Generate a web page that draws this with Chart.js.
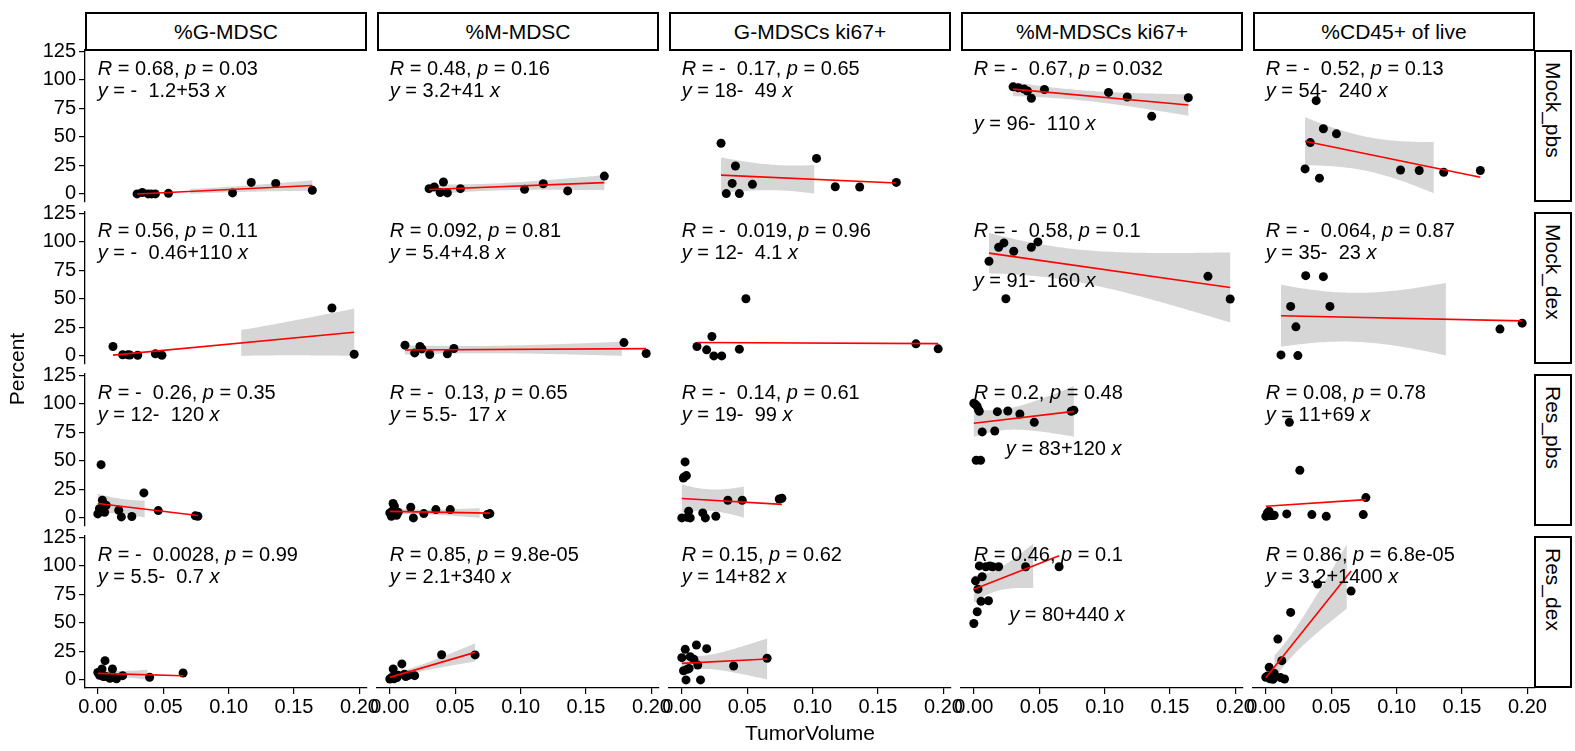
<!DOCTYPE html>
<html>
<head>
<meta charset="utf-8">
<script src="https://cdn.jsdelivr.net/npm/chart.js@4.4.1/dist/chart.umd.min.js"></script>
<style>
  body { margin: 0; background: #fff; width: 1575px; height: 751px; overflow: hidden; position: relative;
         font-family: 'Liberation Sans', Arial, sans-serif; }
  canvas { position: absolute; }
  .strip { position: absolute; box-sizing: border-box; border: 2.5px solid #000; background: #fff;
           display: flex; align-items: center; justify-content: center; font-size: 21px; color: #000; }
  .vstrip { writing-mode: vertical-rl; justify-content: flex-start; padding-top: 10px; }
  .title { position: absolute; font-size: 21px; color: #000; white-space: nowrap; }
</style>
</head>
<body>
<script>
// facets
const groups = ['Mock_pbs', 'Mock_dex', 'Res_pbs', 'Res_dex'];
const measures = ['%G-MDSC', '%M-MDSC', 'G-MDSCs ki67+', '%M-MDSCs ki67+', '%CD45+ of live'];

// TumorVolume per group (same mice in every column)
const volMockPbs = [0.030, 0.034, 0.0385, 0.041, 0.044, 0.054, 0.103, 0.1173, 0.136, 0.164];
const volMockDex = [0.0116, 0.019, 0.023, 0.0245, 0.0305, 0.044, 0.049, 0.179, 0.196];
const volResPbs = [0.000, 0.0012, 0.0018, 0.0025, 0.0035, 0.0042, 0.0052, 0.0064, 0.016, 0.018, 0.026, 0.0352, 0.0462, 0.0745, 0.0765];
const volResDex = [0.000, 0.0013, 0.0026, 0.0032, 0.0042, 0.0055, 0.0064, 0.0092, 0.0112, 0.0122, 0.0143, 0.019, 0.0396, 0.0652];

// Percent values, one array per panel
const mockPbsGMdsc = [0, 1.2, 0, 0, 0, 0.5, 0.9, 10.1, 9.2, 3.2];
const mockPbsMMdsc = [4.6, 6.1, 1.2, 10.4, 0.9, 4.6, 4.0, 8.9, 2.6, 15.6];
const mockPbsGKi67 = [44.4, 0.3, 9.2, 24.5, 0.3, 8.4, 31.1, 6.3, 6.1, 10.1];
const mockPbsMKi67 = [93.9, 93.1, 91.9, 90.2, 83.9, 91.6, 89.0, 85.0, 68.0, 84.4];
const mockPbsCd45 = [21.9, 45.0, 81.8, 13.8, 57.1, 52.7, 21.0, 20.5, 19.0, 20.5];

const mockDexGMdsc = [8.2, 1.0, 1.0, 0.8, 0.6, 1.8, 0.6, 42.0, 1.5];
const mockDexMMdsc = [9.4, 2.6, 8.2, 6.2, 1.2, 1.8, 6.5, 11.7, 2.1];
const mockDexGKi67 = [8.2, 5.3, 17.0, 0, 0, 5.9, 50.1, 10.6, 6.2];
const mockDexMKi67 = [83.0, 95.3, 99.1, 50.1, 91.8, 95.3, 100, 69.8, 49.9];
const mockDexCd45 = [0.9, 43.4, 25.5, 0.3, 70.4, 69.5, 43.4, 23.5, 28.7];

const resPbsGMdsc = [3.5, 8, 5.8, 46.7, 15.5, 10.2, 5.0, 11.1, 6.7, 0.9, 1.2, 21.9, 6.4, 1.8, 1.5];
const resPbsMMdsc = [4.4, 1.5, 6, 12.6, 10.2, 3, 2.3, 5, 9.3, 0, 3.8, 7.3, 7.3, 2.9, 3.8];
const resPbsGKi67 = [0, 35, 35.9, 49.1, 37.1, 0.5, 5.8, 0, 4.4, 0, 1.5, 15.5, 15.5, 16.6, 17.2];
const resPbsMKi67 = [100.5, 99.5, 50.5, 98, 95, 93.5, 50.5, 75.4, 76.2, 93.2, 93.8, 91.1, 83.8, 93.5, 94.5];
const resPbsCd45 = [1.4, 4.4, 3, 5.8, 2.0, 2.3, 2.0, 2.3, 3.5, 83.8, 41.7, 2.9, 1.4, 2.9, 17.8];

const resDexGMdsc = [6.5, 4, 4.5, 9.6, 3, 16.9, 3, 1.5, 9.6, 2, 1, 3.7, 2.3, 6.1];
const resDexMMdsc = [0.8, 2, 9.6, 1, 3, 2, 4, 14.0, 5, 3, 4, 3.7, 22.1, 21.9];
const resDexGKi67 = [19.5, 8, 26.8, 0, 9.3, 10, 20.4, 18.1, 30.6, 13, 0, 27.4, 12.2, 19.0];
const resDexMKi67 = [49.5, 86.9, 59.8, 79.6, 100, 68.9, 90.5, 99.2, 69.4, 100, 99.2, 99.2, 99.2, 99.2];
const resDexCd45 = [2.3, 3.4, 11.0, 1.0, 3.7, 0.5, 5.8, 35.8, 2, 16.9, 0.8, 59.2, 84.0, 77.9];

// printed stat labels
const corMockPbs = ['R = 0.68, p = 0.03', 'R = 0.48, p = 0.16', 'R = -  0.17, p = 0.65', 'R = -  0.67, p = 0.032', 'R = -  0.52, p = 0.13'];
const corMockDex = ['R = 0.56, p = 0.11', 'R = 0.092, p = 0.81', 'R = -  0.019, p = 0.96', 'R = -  0.58, p = 0.1', 'R = -  0.064, p = 0.87'];
const corResPbs = ['R = -  0.26, p = 0.35', 'R = -  0.13, p = 0.65', 'R = -  0.14, p = 0.61', 'R = 0.2, p = 0.48', 'R = 0.08, p = 0.78'];
const corResDex = ['R = -  0.0028, p = 0.99', 'R = 0.85, p = 9.8e-05', 'R = 0.15, p = 0.62', 'R = 0.46, p = 0.1', 'R = 0.86, p = 6.8e-05'];
const eqMockPbs = ['y = -  1.2+53 x', 'y = 3.2+41 x', 'y = 18-  49 x', 'y = 96-  110 x', 'y = 54-  240 x'];
const eqMockDex = ['y = -  0.46+110 x', 'y = 5.4+4.8 x', 'y = 12-  4.1 x', 'y = 91-  160 x', 'y = 35-  23 x'];
const eqResPbs = ['y = 12-  120 x', 'y = 5.5-  17 x', 'y = 19-  99 x', 'y = 83+120 x', 'y = 11+69 x'];
const eqResDex = ['y = 5.5-  0.7 x', 'y = 2.1+340 x', 'y = 14+82 x', 'y = 80+440 x', 'y = 3.2+1400 x'];

const xTicks = [0, 0.05, 0.10, 0.15, 0.20];
const yTicks = [0, 25, 50, 75, 100, 125];

// tables built from the arrays above
const volumes = [volMockPbs, volMockDex, volResPbs, volResDex];
const values = [
  [mockPbsGMdsc, mockPbsMMdsc, mockPbsGKi67, mockPbsMKi67, mockPbsCd45],
  [mockDexGMdsc, mockDexMMdsc, mockDexGKi67, mockDexMKi67, mockDexCd45],
  [resPbsGMdsc, resPbsMMdsc, resPbsGKi67, resPbsMKi67, resPbsCd45],
  [resDexGMdsc, resDexMMdsc, resDexGKi67, resDexMKi67, resDexCd45]
];
const corText = [corMockPbs, corMockDex, corResPbs, corResDex];
const eqText = [eqMockPbs, eqMockDex, eqResPbs, eqResDex];

// layout
const FONT = "'Liberation Sans', Arial, sans-serif";
const PANEL_LEFT = 85, PANEL_TOP = 50, PANEL_W = 282, PANEL_H = 152, COL_STEP = 292, ROW_STEP = 162;
const X_MIN = -0.0098, X_MAX = 0.2058, Y_MIN = -7.1, Y_MAX = 126.2;
const Y_CENSOR_LO = 0, Y_CENSOR_HI = 120;
const PAD = 30, Y_AXIS_W = 62, X_AXIS_H = 34;
const LABEL_R_Y = 109.3, LABEL_EQ_Y = 90;
// equation label spots that ggpubr moved in the %M-MDSCs ki67+ column
const eqSpot = { '0,3': [0, 60.5], '1,3': [0, 65.4], '2,3': [0.0245, 60], '3,3': [0.027, 56.6] };

// two-sided 95% t quantiles by df
const T95 = [0, 12.706, 4.303, 3.182, 2.776, 2.571, 2.447, 2.365, 2.306, 2.262, 2.228, 2.201, 2.179, 2.160, 2.145, 2.131];

function lmFit(xs, ys) {
  const n = xs.length;
  const mx = xs.reduce((a, b) => a + b, 0) / n;
  const my = ys.reduce((a, b) => a + b, 0) / n;
  let sxx = 0, sxy = 0;
  for (let i = 0; i < n; i++) { sxx += (xs[i] - mx) ** 2; sxy += (xs[i] - mx) * (ys[i] - my); }
  const b = sxy / sxx, a = my - b * mx;
  let sse = 0;
  for (let i = 0; i < n; i++) sse += (ys[i] - a - b * xs[i]) ** 2;
  return { n, mx, sxx, a, b, s: Math.sqrt(sse / (n - 2)), t: T95[n - 2] };
}

// ribbon like geom_smooth(method = lm): 80 steps, out-of-range rows dropped
function bandSegments(fit, lo, hi) {
  const segs = [];
  let cur = [];
  for (let i = 0; i < 80; i++) {
    const x = lo + (hi - lo) * i / 79;
    const yh = fit.a + fit.b * x;
    const se = fit.s * Math.sqrt(1 / fit.n + (x - fit.mx) ** 2 / fit.sxx);
    const ymin = yh - fit.t * se, ymax = yh + fit.t * se;
    if (ymin >= Y_CENSOR_LO && ymax <= Y_CENSOR_HI) cur.push({ x, ymin, ymax });
    else { if (cur.length > 1) segs.push(cur); cur = []; }
  }
  if (cur.length > 1) segs.push(cur);
  return segs.map(seg => seg.map(p => ({ x: p.x, y: p.ymax })).concat(seg.slice().reverse().map(p => ({ x: p.x, y: p.ymin }))));
}

function drawMixed(ctx, str, x, y) {
  ctx.textBaseline = 'middle';
  ctx.textAlign = 'left';
  ctx.fillStyle = '#000';
  let cx = x;
  for (const ch of str) {
    ctx.font = ('Rpyx'.includes(ch) ? 'italic ' : '') + '20px ' + FONT;
    ctx.fillText(ch, cx, y);
    cx += ctx.measureText(ch).width;
  }
}

function addDiv(cls, text, left, top, width, height) {
  const d = document.createElement('div');
  d.className = cls;
  d.textContent = text;
  Object.assign(d.style, { left: left + 'px', top: top + 'px', width: width + 'px', height: height + 'px' });
  document.body.appendChild(d);
  return d;
}

function makePanel(r, c) {
  const xs = volumes[r], ys = values[r][c];
  const fit = lmFit(xs, ys);
  const xlo = Math.min(...xs), xhi = Math.max(...xs);
  const showY = c === 0, showX = r === groups.length - 1;
  const padL = PAD + (showY ? Y_AXIS_W : 0), padB = PAD + (showX ? X_AXIS_H : 0);
  const left = PANEL_LEFT + c * COL_STEP, top = PANEL_TOP + r * ROW_STEP;
  const cv = document.createElement('canvas');
  cv.width = PANEL_W + padL + PAD;
  cv.height = PANEL_H + PAD + padB;
  cv.style.left = (left - padL) + 'px';
  cv.style.top = (top - PAD) + 'px';
  document.body.appendChild(cv);

  const datasets = bandSegments(fit, xlo, xhi).map(poly => ({
    type: 'line', data: poly, fill: 'shape', backgroundColor: 'rgba(153,153,153,0.4)',
    borderWidth: 0, pointRadius: 0, tension: 0, order: 3
  }));
  datasets.push({
    type: 'scatter', data: xs.map((x, i) => ({ x, y: ys[i] })),
    pointRadius: 4.5, pointBackgroundColor: '#000', pointBorderWidth: 0, order: 2
  });
  datasets.push({
    type: 'line', data: [{ x: xlo, y: fit.a + fit.b * xlo }, { x: xhi, y: fit.a + fit.b * xhi }],
    borderColor: '#ff0000', borderWidth: 1.6, pointRadius: 0, fill: false, order: 1
  });

  const labels = {
    id: 'statLabels',
    afterDatasetsDraw(chart) {
      const sx = chart.scales.x, sy = chart.scales.y, ctx = chart.ctx;
      ctx.save();
      drawMixed(ctx, corText[r][c], sx.getPixelForValue(0), sy.getPixelForValue(LABEL_R_Y));
      const spot = eqSpot[r + ',' + c] || [0, LABEL_EQ_Y];
      drawMixed(ctx, eqText[r][c], sx.getPixelForValue(spot[0]), sy.getPixelForValue(spot[1]));
      ctx.restore();
    }
  };

  new Chart(cv, {
    type: 'scatter',
    data: { datasets },
    plugins: [labels],
    options: {
      responsive: false, animation: false, events: [], devicePixelRatio: 1,
      layout: { padding: { left: PAD, right: PAD, top: PAD, bottom: PAD } },
      plugins: { legend: { display: false }, tooltip: { enabled: false } },
      scales: {
        x: {
          type: 'linear', min: X_MIN, max: X_MAX, display: showX,
          afterBuildTicks: s => { s.ticks = xTicks.map(v => ({ value: v })); },
          afterFit: s => { if (showX) s.height = X_AXIS_H; },
          ticks: { callback: v => v.toFixed(2), font: { family: FONT, size: 20 }, color: '#000', padding: 1, maxRotation: 0, autoSkip: false },
          grid: { drawOnChartArea: false, drawTicks: true, tickLength: 6, color: '#000', lineWidth: 1.2 },
          border: { display: true, color: '#000', width: 1.3 }
        },
        y: {
          type: 'linear', min: Y_MIN, max: Y_MAX, display: showY,
          afterBuildTicks: s => { s.ticks = yTicks.map(v => ({ value: v })); },
          afterFit: s => { if (showY) s.width = Y_AXIS_W; },
          ticks: { font: { family: FONT, size: 20 }, color: '#000', padding: 3, autoSkip: false },
          grid: { drawOnChartArea: false, drawTicks: true, tickLength: 6, color: '#000', lineWidth: 1.2 },
          border: { display: true, color: '#000', width: 1.3 }
        }
      }
    }
  });
}

// strips
measures.forEach((m, c) => addDiv('strip', m, PANEL_LEFT + c * COL_STEP, 12, PANEL_W, PANEL_TOP - 12 + 1));
groups.forEach((g, r) => addDiv('strip vstrip', g, PANEL_LEFT + 4 * COL_STEP + PANEL_W - 1, PANEL_TOP + r * ROW_STEP, 38, PANEL_H));

for (let r = 0; r < groups.length; r++) for (let c = 0; c < measures.length; c++) makePanel(r, c);

// axis titles
const xt = addDiv('title', 'TumorVolume', 0, 721, 200, 26);
xt.style.left = (PANEL_LEFT + (4 * COL_STEP + PANEL_W) / 2 - 100) + 'px';
xt.style.textAlign = 'center';
const yt = addDiv('title', 'Percent', 18 - 60, 369 - 13, 120, 26);
yt.style.textAlign = 'center';
yt.style.transform = 'rotate(-90deg)';
</script>
</body>
</html>
